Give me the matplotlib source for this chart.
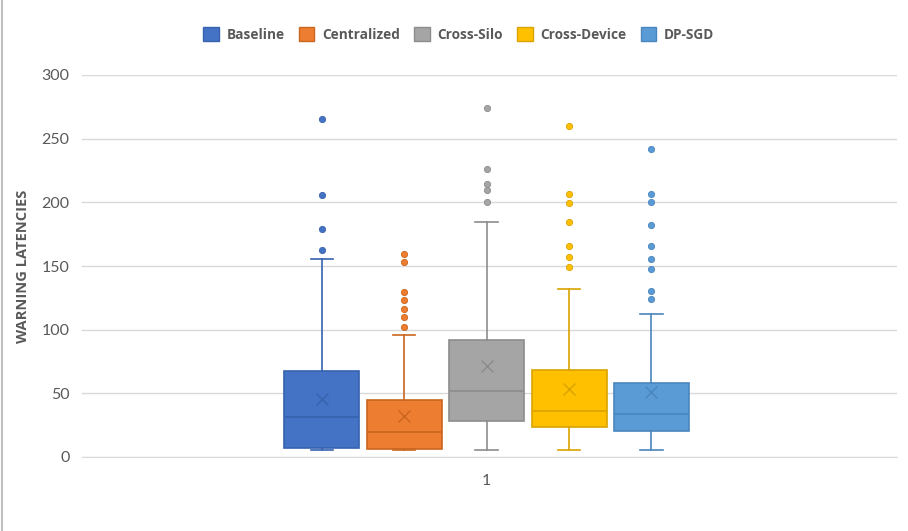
import matplotlib.pyplot as plt
from matplotlib.patches import Patch
from matplotlib.lines import Line2D

# series
series = ['Baseline', 'Centralized', 'Cross-Silo', 'Cross-Device', 'DP-SGD']
whisker_low = [5.5, 5.5, 5.5, 5.5, 5.5]
q1 = [7.3, 6.3, 28.5, 23.3, 20.4]
medians = [31.4, 19.6, 51.6, 36.4, 33.5]
means = [45.5, 32.5, 71.7, 53.7, 50.8]
q3 = [67.5, 44.5, 91.6, 68.3, 58.1]
whisker_high = [155.2, 96.1, 184.3, 132.2, 112.1]
outliers = [
    [162.3, 179.3, 206.0, 265.2],
    [102.1, 110.2, 116.5, 123.3, 129.3, 153.1, 159.2],
    [200.3, 209.4, 214.2, 226.2, 274.4],
    [149.2, 157.3, 165.4, 184.3, 199.2, 206.3, 260.2],
    [124.3, 130.6, 147.4, 155.5, 165.4, 182.2, 200.3, 206.3, 242.2],
]
fills = ['#4472C4', '#ED7D31', '#A5A5A5', '#FFC000', '#5B9BD5']
edges = ['#3762AE', '#C9661F', '#8C8C8C', '#D9A300', '#4A86BE']

plt.rcParams['font.family'] = ['Lato', 'DejaVu Sans']
grey = '#595959'

fig = plt.figure(figsize=(9.08, 5.31), dpi=100)
ax = fig.add_axes([82 / 908, (531 - 457) / 531, (897 - 82) / 908, (457 - 75) / 531])

for i in range(len(series)):
    stats = [{
        'whislo': whisker_low[i], 'q1': q1[i], 'med': medians[i], 'mean': means[i],
        'q3': q3[i], 'whishi': whisker_high[i], 'fliers': outliers[i],
    }]
    ax.bxp(stats, positions=[i + 1], widths=0.91, capwidths=0.27,
           showmeans=True, patch_artist=True,
           boxprops=dict(facecolor=fills[i], edgecolor=edges[i], linewidth=1.2),
           medianprops=dict(color=edges[i], linewidth=1.2),
           whiskerprops=dict(color=edges[i], linewidth=1.2),
           capprops=dict(color=edges[i], linewidth=1.2),
           meanprops=dict(marker='x', markeredgecolor=edges[i], markersize=8,
                          markeredgewidth=1.0),
           flierprops=dict(marker='o', markerfacecolor=fills[i], markeredgecolor=edges[i],
                           markersize=4.5, markeredgewidth=0.6))

ax.set_xlim(-1.91, 7.98)
ax.set_ylim(0, 300)
ax.set_yticks(range(0, 301, 50))
ax.set_xticks([3])
ax.set_xticklabels(['1'])
ax.grid(axis='y', color='#D9D9D9', linewidth=1)
ax.set_axisbelow(True)
for s in ['top', 'right', 'left']:
    ax.spines[s].set_visible(False)
ax.spines['bottom'].set_color('#D9D9D9')
ax.tick_params(axis='both', length=0, colors=grey, labelsize=11.5)
ax.tick_params(axis='y', pad=9)
ax.tick_params(axis='x', pad=12)
ax.set_ylabel('WARNING LATENCIES', color=grey, fontsize=10.5, fontweight='bold',
              family=['Open Sans', 'DejaVu Sans'], labelpad=8)

handles = [Patch(facecolor=fills[i], edgecolor=edges[i], label=series[i]) for i in range(len(series))]
fig.legend(handles=handles, loc='center', bbox_to_anchor=(0.505, 0.935), ncol=5,
           frameon=False, handlelength=1.15, handleheight=1.15, handletextpad=0.55,
           columnspacing=1.05, labelcolor=grey,
           prop={'weight': 'bold', 'size': 9.8, 'family': ['Open Sans', 'DejaVu Sans']})

fig.add_artist(Line2D([0.002, 0.002], [0, 1], color='#BFBFBF', linewidth=1.5))

fig.savefig('out.png', dpi=100)
